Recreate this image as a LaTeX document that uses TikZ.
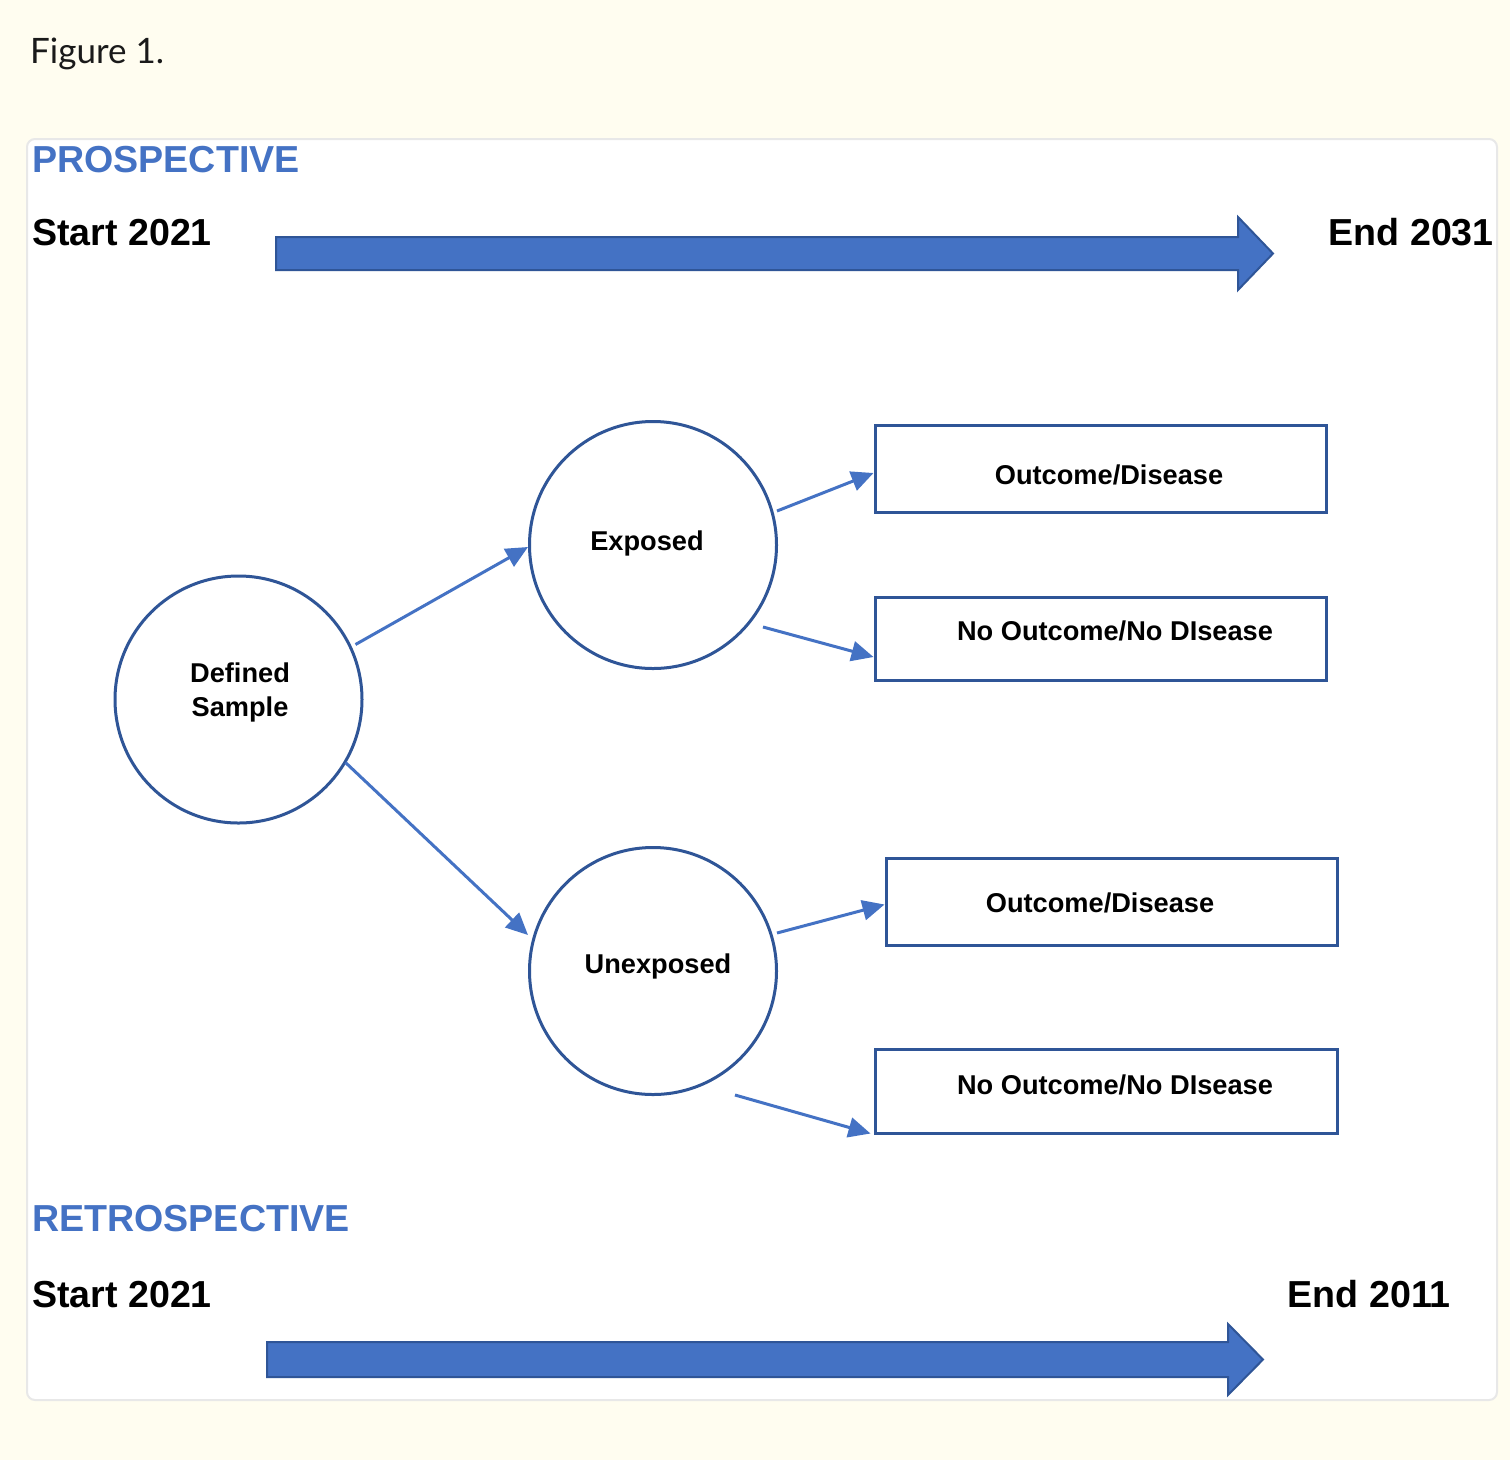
\documentclass[tikz,border=0pt]{standalone}
\usepackage{fontspec}
\setmainfont{Liberation Sans}
\newfontfamily\figfont{Lato}
\usetikzlibrary{arrows.meta,calc}
\definecolor{bgcream}{HTML}{FFFDF0}
\definecolor{arrowblue}{HTML}{4472C4}
\definecolor{edgeblue}{HTML}{2F5597}
\definecolor{panelgray}{HTML}{E8E8E8}
\definecolor{figtext}{HTML}{1A1A1A}
\begin{document}
\begin{tikzpicture}[x=1pt,y=-1pt,
  circ/.style={circle,draw=edgeblue,line width=3pt,minimum size=247pt,inner sep=0pt},
  box/.style={rectangle,draw=edgeblue,line width=3pt,inner sep=0pt},
  lab/.style={font=\fontsize{27.2}{32}\selectfont\bfseries,anchor=base,inner sep=0pt},
  big/.style={font=\fontsize{37.6}{44}\selectfont\bfseries,inner sep=0pt},
  conn/.style={draw=arrowblue,line width=3pt,-{Triangle[length=22pt,width=20pt]}},
  bigarrow/.style={fill=arrowblue,draw=edgeblue,line width=2pt,line join=miter}]
\useasboundingbox (0,0) rectangle (1510,1460);
\fill[bgcream] (0,0) rectangle (1510,1460);
\draw[panelgray,line width=2pt,fill=white,rounded corners=8pt] (27,139) rectangle (1497,1400);

% titles
\node[anchor=base west,inner sep=0pt,font=\figfont\fontsize{35}{42}\selectfont,text=figtext] (fig) at (30,63) {Figure 1.};
\node[big,anchor=base west,text=arrowblue] (pro) at (32,172) {PROSPECTIVE};
\node[big,anchor=base west] (s1) at (32,245) {Start 2021};
\node[big,anchor=base east] (e1) at (1494,245) {End 2031};
\node[big,anchor=base west,text=arrowblue] (retro) at (32,1231) {RETROSPECTIVE};
\node[big,anchor=base west] (s2) at (32,1307) {Start 2021};
\node[big,anchor=base east] (e2) at (1451,1307) {End 2011};

% timeline arrows
\draw[bigarrow] (276,237) -- (1238,237) -- (1238,217) -- (1273,253.5) -- (1238,290) -- (1238,270) -- (276,270) -- cycle;
\draw[bigarrow] (267,1342) -- (1228,1342) -- (1228,1324) -- (1263,1359.5) -- (1228,1395) -- (1228,1377) -- (267,1377) -- cycle;

% circles
\node[circ] (D) at (238.5,699.5) {};
\node[circ] (E) at (653,545) {};
\node[circ] (U) at (653,971) {};
\node[lab] (Dt1) at (240,682) {Defined};
\node[lab] (Dt2) at (240,716) {Sample};
\node[lab] (Et) at (647,550) {Exposed};
\node[lab] (Ut) at (658,973) {Unexposed};

% boxes
\node[box,minimum width=451pt,minimum height=87pt] (B1) at (1100.5,468.5) {};
\node[box,minimum width=451pt,minimum height=83pt] (B2) at (1100.5,638.5) {};
\node[box,minimum width=451pt,minimum height=87pt] (B3) at (1111.5,901.5) {};
\node[box,minimum width=462pt,minimum height=84pt] (B4) at (1106,1091) {};
\node[lab] (B1t) at (1109,484) {Outcome/Disease};
\node[lab] (B2t) at (1115,640) {No Outcome/No DIsease};
\node[lab] (B3t) at (1100,912) {Outcome/Disease};
\node[lab] (B4t) at (1115,1094) {No Outcome/No DIsease};

% connectors
\draw[conn] ($(D)+(117,-55)$) -- ($(E.west)+(0,2)$);
\draw[conn] ($(D)+(107,63)$) -- ($(U)+(-125,-36)$);
\draw[conn] ($(E)+(124,-34)$) -- ($(B1.west)+(0,4.5)$);
\draw[conn] ($(E)+(110,82)$) -- ($(B2.west)+(0,18.5)$);
\draw[conn] ($(U)+(124,-38)$) -- ($(B3.west)+(0,3)$);
\draw[conn] ($(U)+(82,124)$) -- ($(B4.south west)+(-3,-1)$);
\end{tikzpicture}
\end{document}
